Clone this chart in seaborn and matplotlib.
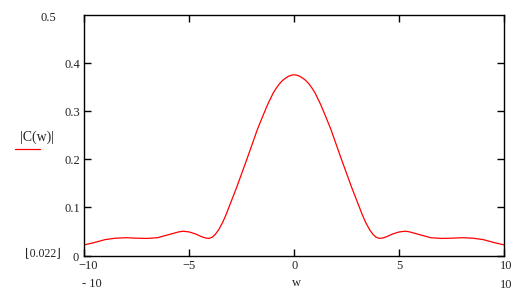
import matplotlib
matplotlib.use("Agg")
import matplotlib.pyplot as plt
import matplotlib.transforms as mtransforms
import seaborn as sns
import pandas as pd

sns.set_theme(style="white")
plt.rcParams['font.family'] = ['Liberation Serif', 'DejaVu Serif']

w = [-10, -9.5, -9, -8.5, -8, -7.5, -7, -6.5, -6, -5.5, -5.3, -5, -4.7, -4.4, -4.2, -4.05, -3.9,
     -3.75, -3.6, -3.4, -3.25, -3, -2.75, -2.5, -2.25, -2, -1.75, -1.5, -1.25, -1, -0.85, -0.7,
     -0.55, -0.4, -0.25, -0.1, 0,
     0.1, 0.25, 0.4, 0.55, 0.7, 0.85, 1, 1.25, 1.5, 1.75, 2, 2.25, 2.5, 2.75, 3, 3.25, 3.4, 3.6,
     3.75, 3.9, 4.05, 4.2, 4.4, 4.7, 5, 5.3, 5.5, 6, 6.5, 7, 7.5, 8, 8.5, 9, 9.5, 10]
C = [0.022, 0.027, 0.033, 0.036, 0.037, 0.036, 0.0355, 0.037, 0.043, 0.049, 0.0505, 0.049, 0.045, 0.039, 0.0362, 0.0356, 0.038,
     0.044, 0.053, 0.069, 0.084, 0.112, 0.140, 0.170, 0.200, 0.231, 0.262, 0.289, 0.315, 0.3375, 0.348, 0.357,
     0.364, 0.369, 0.373, 0.3752, 0.3756,
     0.3752, 0.373, 0.369, 0.364, 0.357, 0.348, 0.3375, 0.315, 0.289, 0.262, 0.231, 0.200, 0.170, 0.140, 0.112, 0.084, 0.069, 0.053,
     0.044, 0.038, 0.0356, 0.0362, 0.039, 0.045, 0.049, 0.0505, 0.049, 0.043, 0.037, 0.0355, 0.036, 0.037, 0.036, 0.033, 0.027, 0.022]
xticks = [-10, -5, 0, 5, 10]
xticklabels = ["\u221210", "\u22125", "0", "5", "10"]
yticks = [0, 0.1, 0.2, 0.3, 0.4]
yticklabels = ["0", "0.1", "0.2", "0.3", "0.4"]

df = pd.DataFrame({"w": w, "C": C})

fig = plt.figure(figsize=(5.27, 2.92), dpi=100)
ax = fig.add_axes([84 / 527, 1 - 255.5 / 292, (504.3 - 84) / 527, (255.5 - 15) / 292])
sns.lineplot(data=df, x="w", y="C", ax=ax, color="red", linewidth=0.9, sort=False)
ax.set_xlim(-10, 10)
ax.set_ylim(0, 0.5)
ax.set_xticks(xticks)
ax.set_xticklabels(xticklabels)
ax.set_yticks(yticks)
ax.set_yticklabels(yticklabels)
ax.set_xlabel("")
ax.set_ylabel("")
for s in ax.spines.values():
    s.set_color("black")
    s.set_linewidth(1.0)
ax.tick_params(direction="in", length=5, width=1, colors="black", labelsize=9,
               top=True, right=True, bottom=True, left=True, pad=3)
for lbl in ax.get_xticklabels() + ax.get_yticklabels():
    lbl.set_color("#222222")

# nudge end labels like the reference
xl = ax.get_xticklabels()
xl[0].set_transform(xl[0].get_transform() + mtransforms.ScaledTranslation(4 / 100, 0, fig.dpi_scale_trans))
xl[-1].set_transform(xl[-1].get_transform() + mtransforms.ScaledTranslation(2 / 100, 0, fig.dpi_scale_trans))
yl = ax.get_yticklabels()
yl[0].set_transform(yl[0].get_transform() + mtransforms.ScaledTranslation(-1 / 100, -1 / 100, fig.dpi_scale_trans))

def px(x, y):
    return x / 527, 1 - y / 292

fig.text(*px(48, 18), "0.5", fontsize=9, ha="center", va="center", color="#222222")
fig.text(*px(92, 284), "- 10", fontsize=9, ha="center", va="center", color="#222222")
fig.text(*px(506, 285), "10", fontsize=9, ha="center", va="center", color="#222222")
fig.text(*px(296, 283), "w", fontsize=9, ha="center", va="center", color="#222222")
fig.text(*px(37, 137), "|C(w)|", fontsize=10, ha="center", va="center", color="#222222")
fig.lines.append(plt.Line2D([15 / 527, 40 / 527], [1 - 149 / 292, 1 - 149 / 292],
                            transform=fig.transFigure, color="red", linewidth=0.9))
fig.text(*px(43, 253), "\u230a0.022\u230b", fontsize=8.5, ha="center", va="center", color="#222222")

fig.savefig("out.png", dpi=100)
